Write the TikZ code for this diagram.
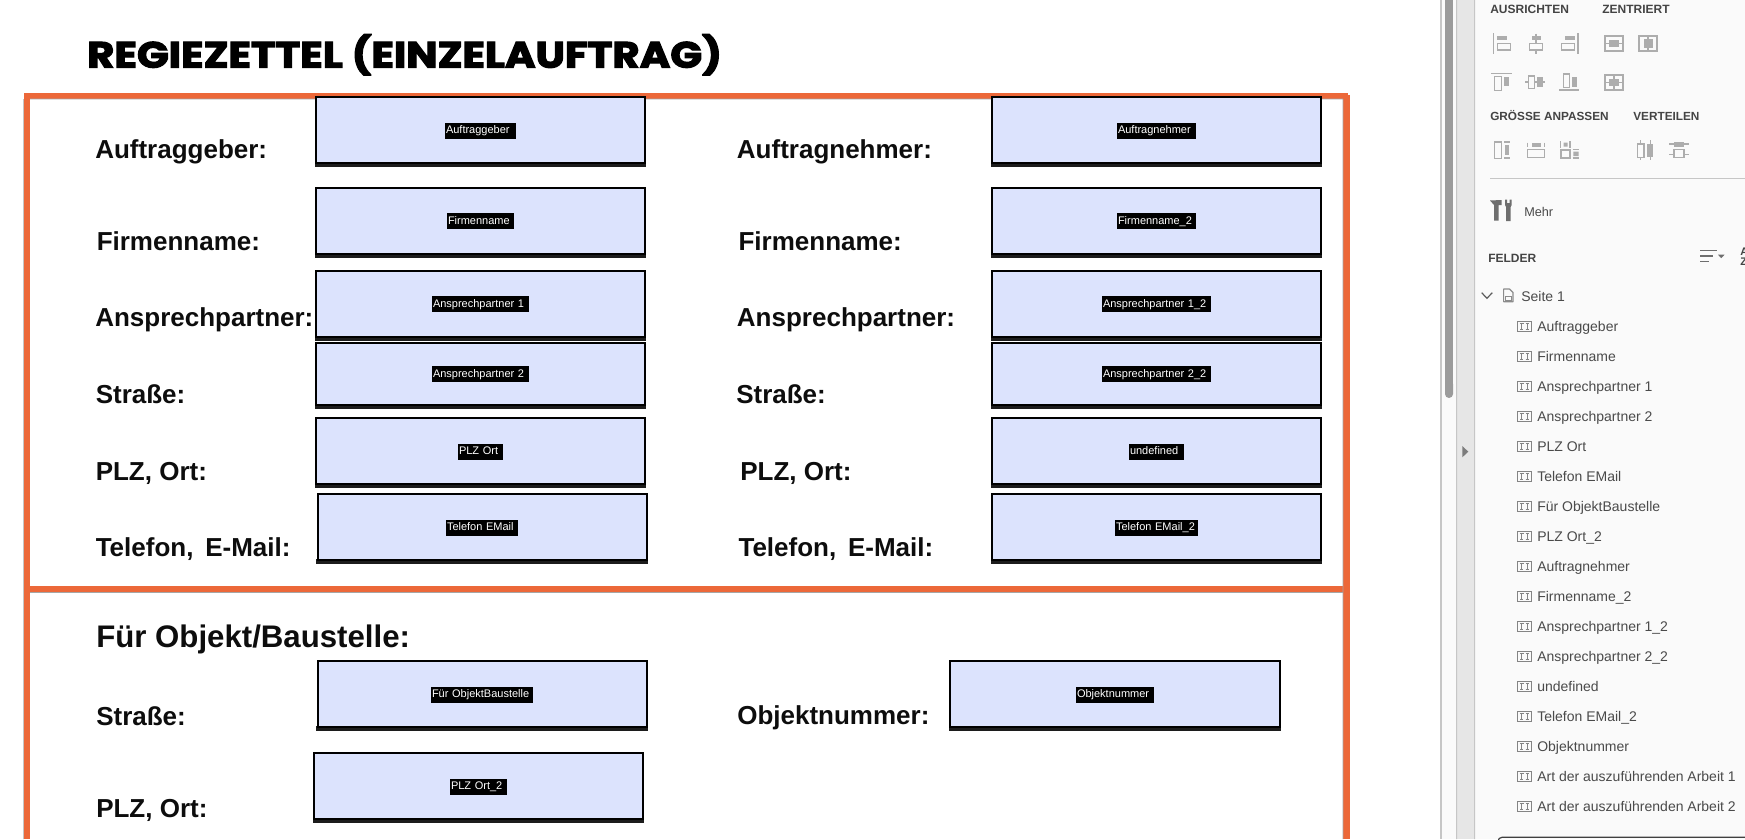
\documentclass[tikz,border=0pt]{standalone}
\usepackage{fontspec}
\usepackage{graphicx}
\setmainfont{Liberation Sans}
\newfontfamily\titlef[BoldFeatures={FakeBold=3}]{Poppins}
\definecolor{frameor}{HTML}{EC6839}
\definecolor{fieldbg}{HTML}{DCE3FD}
\definecolor{thickb}{HTML}{1C1C1C}
\definecolor{panelbg}{HTML}{FAFAFA}
\definecolor{gutter}{HTML}{E6E6E6}
\definecolor{sepgray}{HTML}{C6C6C6}
\definecolor{icgray}{HTML}{ADADAD}
\definecolor{txtgray}{HTML}{4A4A4A}
\definecolor{headgray}{HTML}{444444}
\definecolor{toolgray}{HTML}{6E6E6E}
\newcommand{\fpx}[1]{\fontsize{\dimexpr#1pt*3/4\relax}{\dimexpr#1pt*9/10\relax}\selectfont}
\tikzset{
  formlabel/.style={anchor=base west,inner sep=0pt,text=black!95,font=\bfseries\fpx{26}},
  headlabel/.style={anchor=base west,inner sep=0pt,text=headgray,font=\bfseries\fpx{12}},
  itemlabel/.style={anchor=base west,inner sep=0pt,text=txtgray,font=\fpx{14}},
  tagnode/.style={fill=black,text=white,font=\fpx{11},inner xsep=0.75pt,inner ysep=1.875pt,
    text height=6.2pt,text depth=2.1pt,align=left,anchor=center},
  fieldline/.style={draw=black,fill=fieldbg,line width=1.5pt},
  ic/.style={draw=icgray,line width=1pt},
  icf/.style={fill=icgray},
}
% id, x1, y1, x2, y-inner-bottom, tag width, tag cx, tag cy, text
\newcommand{\formfield}[9]{%
  \fill[thickb] (#2-0.5,#5-1) rectangle (#4,#5+4);
  \path[fieldline] (#2+1,#3+2) rectangle (#4-1.5,#5);
  \node[tagnode,text width={(#6-2)*0.75pt}] (#1) at (#7,#8+0.8) {#9};
}
\newcommand{\tiicon}[1]{%
  \begin{scope}[shift={(0,#1+0.5)}]
    \draw[draw=toolgray!85,line width=0.75pt] (1517,-10.5) rectangle (1531.5,0);
    \draw[draw=toolgray!85,line width=0.65pt] (1519.5,-8) -- (1524,-8) (1521.7,-8) -- (1521.7,-2) (1520.2,-2) -- (1523.2,-2)
      (1525.5,-8) -- (1529,-8) (1527.2,-8) -- (1527.2,-2) (1525.5,-2) -- (1529,-2);
  \end{scope}
}
\begin{document}
\begin{tikzpicture}[x=0.75pt,y=-0.75pt]
\useasboundingbox (0,0) rectangle (1745,839);
\fill[white] (0,0) rectangle (1745,839);
% title
\node[anchor=north west,inner sep=0pt,text=black] (title) at (87,34)
  {\resizebox*{476pt}{30.75pt}{\titlef\bfseries REGIEZETTEL (EINZELAUFTRAG)}};
% orange frame
\fill[frameor] (23.5,93) rectangle (1348,99);
\fill[frameor] (23.5,93) rectangle (30,839);
\fill[frameor] (1343,95) rectangle (1350,839);
\fill[frameor] (30,586) rectangle (1343,592);
\fill[black!35] (30,98.6) rectangle (1343,99.4) (30,592) rectangle (1343,592.8)
  (23,99) rectangle (23.7,839) (1342.6,99) rectangle (1343.3,839);
% left fields
\formfield{fa}{315}{95}{646}{163}{71}{480.5}{130}{Auftraggeber}
\formfield{fb}{315}{186}{646}{254}{67}{480.5}{220.5}{Firmenname}
\formfield{fc}{315}{269}{646}{337}{97}{480.5}{303.5}{Ansprechpartner 1}
\formfield{fd}{315}{341}{646}{405}{97}{480.5}{373.5}{Ansprechpartner 2}
\formfield{fe}{315}{416}{646}{484}{45}{480.5}{451}{PLZ Ort}
\formfield{ff}{316.5}{492}{648}{560}{72}{482}{527}{Telefon EMail}
% right fields
\formfield{ga}{991}{95}{1322}{163}{79}{1156.5}{130}{Auftragnehmer}
\formfield{gb}{991}{186}{1322}{254}{79}{1156.5}{220.5}{Firmenname\_2}
\formfield{gc}{991}{269}{1322}{337}{109}{1156.5}{303.5}{Ansprechpartner 1\_2}
\formfield{gd}{991}{341}{1322}{405}{109}{1156.5}{373.5}{Ansprechpartner 2\_2}
\formfield{ge}{991}{416}{1322}{484}{55}{1156.5}{451}{undefined}
\formfield{gf}{991}{492}{1322}{560}{83}{1156.5}{527}{Telefon EMail\_2}
% lower fields
\formfield{ha}{316.5}{659}{648}{727}{102}{482}{694}{Für ObjektBaustelle}
\formfield{hb}{949}{659}{1281}{727}{78}{1115}{694}{Objektnummer}
\formfield{hc}{313}{751}{644}{819}{57}{478.5}{786}{PLZ Ort\_2}
% form labels
\node[formlabel] (la) at (95,158.5) {Auftraggeber:};
\node[formlabel] (lb) at (96.5,250.5) {Firmenname:};
\node[formlabel] (lc) at (95,326.7) {Ansprechpartner:};
\node[formlabel] (ld) at (95.5,403) {Straße:};
\node[formlabel] (le) at (95.5,480.5) {PLZ, Ort:};
\node[formlabel] (lf) at (95.5,556.7) {Telefon,\hspace{3.4pt} E-Mail:};
\node[formlabel] (ra) at (736.7,158.5) {Auftragnehmer:};
\node[formlabel] (rb) at (738.3,250.5) {Firmenname:};
\node[formlabel] (rc) at (736.7,326.7) {Ansprechpartner:};
\node[formlabel] (rd) at (736,403) {Straße:};
\node[formlabel] (re) at (740,480.5) {PLZ, Ort:};
\node[formlabel] (rf) at (738.3,556.7) {Telefon,\hspace{3.4pt} E-Mail:};
\node[formlabel,font=\bfseries\fpx{31.2}] (sec) at (96,647) {Für Objekt/Baustelle:};
\node[formlabel] (sa) at (96,725) {Straße:};
\node[formlabel] (sb) at (96,817.3) {PLZ, Ort:};
\node[formlabel] (sc) at (737,724) {Objektnummer:};
% side panel background
\fill[panelbg] (1440,0) rectangle (1745,839);
\fill[sepgray] (1440,0) rectangle (1441.7,839);
\fill[icgray!75!black!80] (1445,-5) rectangle (1453,392);
\fill[icgray!75!black!80,rounded corners=3pt] (1445,380) rectangle (1453,398);
\fill[gutter] (1456,0) rectangle (1475,839);
\fill[sepgray] (1456,0) rectangle (1457,839) (1474,0) rectangle (1475,839);
\fill[toolgray!90] (1462.3,446) -- (1468.3,451.7) -- (1462.3,457.3) -- cycle;
\draw[sepgray,line width=0.8pt] (1490,178.5) -- (1745,178.5);
% panel headings
\node[headlabel] (h1) at (1490,13.2) {AUSRICHTEN};
\node[headlabel] (h2) at (1602,13.2) {ZENTRIERT};
\node[headlabel,font=\bfseries\fpx{11.8}] (h3) at (1490,120.3) {GRÖSSE ANPASSEN};
\node[headlabel,font=\bfseries\fpx{11.8}] (h4) at (1633,120.3) {VERTEILEN};
\node[headlabel] (h5) at (1488,262.5) {FELDER};
\node[itemlabel,font=\fpx{12.7}] (mehr) at (1524,216) {Mehr};
% align icons
\draw[ic] (1493.5,33.3) -- (1493.5,53.5) (1497.3,43.3) rectangle (1510.7,50);
\fill[icf] (1497.3,36) rectangle (1506.7,40);
\draw[ic] (1536,33.5) -- (1536,36) (1536,40) -- (1536,43.3) (1536,50) -- (1536,53.5) (1529.3,43.3) rectangle (1542.7,50);
\fill[icf] (1531.7,36) rectangle (1540.7,40);
\draw[ic] (1578,33.3) -- (1578,53.5) (1561.3,43.3) rectangle (1574.7,50);
\fill[icf] (1565.3,36) rectangle (1574.7,40);
\draw[ic,line width=1.3pt] (1604.8,35.8) rectangle (1623.3,51);
\draw[ic,line width=0.8pt] (1604.8,43.3) -- (1623.3,43.3);
\fill[icf] (1608.7,40) rectangle (1619.3,46.7);
\draw[ic,line width=1.3pt] (1639.2,35.8) rectangle (1656.8,51);
\draw[ic,line width=0.8pt] (1648,35.8) -- (1648,51);
\fill[icf] (1644,38.7) rectangle (1652.7,48);
\draw[ic] (1491.3,73.3) -- (1511.7,73.3) (1494.3,76.7) rectangle (1501.7,90.7);
\fill[icf] (1504,77.3) rectangle (1508.7,86);
\draw[ic] (1525.3,82) -- (1528.7,82) (1534.7,82) -- (1537.3,82) (1542.7,82) -- (1545.3,82) (1528.7,76) rectangle (1534.7,88.7);
\fill[icf] (1537.3,77.3) rectangle (1542.7,86.7);
\draw[ic] (1559.3,90) -- (1579.3,90) (1563.3,74) rectangle (1569.3,87.3);
\fill[icf] (1571.7,77.3) rectangle (1576.7,86.7);
\draw[ic,line width=1.3pt] (1604.8,74.8) rectangle (1623.3,90.3);
\draw[ic,line width=0.8pt] (1604.8,82.5) -- (1623.3,82.5) (1614,74.8) -- (1614,90.3);
\fill[icf] (1608.7,78.7) rectangle (1619.3,86);
% size icons
\draw[ic] (1494.3,142) rectangle (1501.7,158.7) (1504,142) -- (1510,142) (1504,158) -- (1510,158);
\fill[icf] (1504.7,145) rectangle (1508.7,154.7);
\draw[ic] (1527.3,149.3) rectangle (1544.7,157.3) (1527.8,142.7) -- (1527.8,147.3) (1544.2,142.7) -- (1544.2,147.3);
\fill[icf] (1532,143.3) rectangle (1540.7,147.3);
\draw[ic] (1561,150) rectangle (1570,158) (1560.5,141) -- (1560.5,147.5) (1570,141) -- (1570,147.5) (1572.5,149.5) -- (1579.3,149.5) (1572.5,158) -- (1579.3,158);
\fill[icf] (1563.5,142.7) rectangle (1567.5,146.7) (1573.3,151.7) rectangle (1578.7,156);
% distribute icons
\draw[ic] (1640.7,140) -- (1640.7,144) (1640.7,157.3) -- (1640.7,160) (1637.3,144) rectangle (1644,157.3);
\fill[icf] (1647.3,144) rectangle (1653.3,157.3);
\draw[ic] (1650.3,140) -- (1650.3,160);
\draw[ic] (1669.3,144) -- (1688.7,144) (1669.3,154.7) -- (1688.7,154.7);
\fill[icf] (1674,141.7) rectangle (1684,146.7);
\draw[ic,fill=panelbg] (1674,149.3) rectangle (1684,157.3);
% tools icon
\fill[toolgray] (1490,200.5) -- (1501.7,200) -- (1501.7,205) -- (1498.7,205) -- (1498.7,220.7) -- (1494,220.7) -- (1494,205) -- cycle;
\fill[toolgray] (1505,199.5) -- (1507,199.5) -- (1507,203) -- (1509.7,203) -- (1509.7,199.5) -- (1511.7,199.5) -- (1511.7,205) -- (1510.7,207) -- (1510.7,221) -- (1506,221) -- (1506,207) -- (1505,205) -- cycle;
% sort icon
\draw[toolgray,line width=1pt] (1700,250.7) -- (1717,250.7) (1700,256) -- (1713,256) (1700,261.3) -- (1708.5,261.3);
\fill[toolgray] (1718,254.7) -- (1724.5,254.7) -- (1721.2,258.2) -- cycle;
\node[headlabel,font=\bfseries\fpx{11}] (sa1) at (1740,255) {A};
\node[headlabel,font=\bfseries\fpx{11}] (sa2) at (1740,265) {Z};
% page row
\draw[txtgray!90,line width=0.9pt] (1481.7,292.7) -- (1486.9,298.3) -- (1492.3,292.7);
\draw[toolgray!80,line width=0.9pt,line join=round] (1503.6,289) -- (1509.5,289) -- (1513,292.5) -- (1513,301.7) -- (1503.6,301.7) -- cycle;
\draw[toolgray!80,line width=0.7pt] (1505.5,296.7) rectangle (1511,300);
\node[itemlabel] (page) at (1521,301.3) {Seite 1};
% field list
\foreach \nid/\yy/\txt in {
 i1/331.2/Auftraggeber, i2/361.2/Firmenname, i3/391.2/Ansprechpartner 1, i4/421.2/Ansprechpartner 2,
 i5/451.2/PLZ Ort, i6/481.2/Telefon EMail, i7/511.2/Für ObjektBaustelle, i8/541.2/PLZ Ort\_2,
 i9/571.2/Auftragnehmer, i10/601.2/Firmenname\_2, i11/631.2/Ansprechpartner 1\_2, i12/661.2/Ansprechpartner 2\_2,
 i13/691.2/undefined, i14/721.2/Telefon EMail\_2, i15/751.2/Objektnummer,
 i16/781.2/Art der auszuführenden Arbeit 1, i17/811.2/Art der auszuführenden Arbeit 2}{
  \tiicon{\yy}
  \node[itemlabel] (\nid) at (1537,\yy) {\txt};
}
% panel bottom box edge
\draw[black!75,line width=0.9pt,rounded corners=3pt] (1498,845) -- (1498,837.3) -- (1745,837.3);
\end{tikzpicture}
\end{document}
